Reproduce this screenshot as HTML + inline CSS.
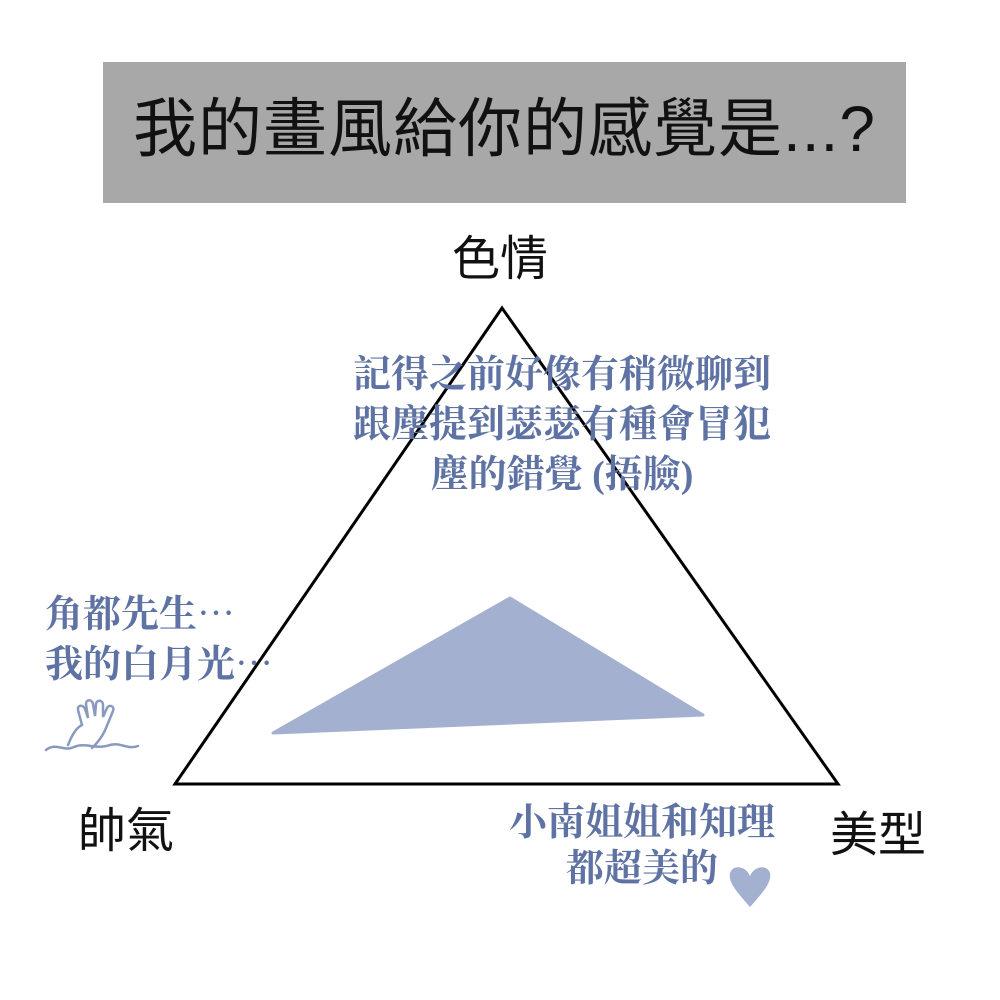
<!DOCTYPE html>
<html><head><meta charset="utf-8"><style>
body{margin:0;width:1000px;height:1000px;background:#fff;position:relative;overflow:hidden}
.t{position:absolute;white-space:nowrap}
.sans{font-family:"Liberation Sans","Noto Sans CJK TC",sans-serif;color:#111}
.serif{font-family:"Liberation Serif","Noto Serif CJK SC",serif;color:#5e73a3;font-weight:bold;font-size:38px;line-height:50px}
</style></head><body>
<div style="position:absolute;left:103px;top:62px;width:803px;height:141px;background:#a8a8a8"></div>
<div class="t sans" style="left:133px;top:92px;font-size:64px;line-height:74px;letter-spacing:1px">我的畫風給你的感覺是...?</div>
<svg width="1000" height="1000" style="position:absolute;left:0;top:0">
<polygon points="502,308 175,784 838,784" fill="none" stroke="#000" stroke-width="3"/>
<polygon points="273,733 510,598 703,715" fill="#a3b0cf" stroke="#a3b0cf" stroke-width="3" stroke-linejoin="round"/>
<path d="M750,907 C738,893 728,883 730,873 C733,864 746,866 750,876 C754,866 767,864 770,873 C772,883 762,893 750,907Z" fill="#a3b0cf"/>
<g fill="none" stroke="#8a9abf" stroke-width="2.5" stroke-linecap="round">
<path d="M46,750 C56,742 64,752 74,747 C86,742 96,750 110,745 C120,742 128,750 138,746"/>
<path d="M68,745 C72,735 76,728 82,725 L78,710 C77,705 83,704 85,709 L88,718 L86,704 C86,699 92,699 93,704 L95,716 L96,704 C97,699 103,700 103,705 L103,717 L107,708 C109,704 115,706 113,711 L106,728 C102,738 96,744 92,748"/>
</g>
</svg>
<div class="t sans" style="left:452px;top:232px;font-size:48px;line-height:56px">色情</div>
<div class="t sans" style="left:78px;top:804px;font-size:48px;line-height:56px">帥氣</div>
<div class="t sans" style="left:830px;top:808px;font-size:48px;line-height:56px">美型</div>
<div class="t serif" style="left:342px;top:350px;width:440px;text-align:center">記得之前好像有稍微聊到<br>跟塵提到瑟瑟有種會冒犯<br>塵的錯覺 (捂臉)</div>
<div class="t serif" style="left:45px;top:590px">角都先生⋯<br>我的白月光⋯</div>
<div class="t serif" style="left:500px;top:800px;width:284px;text-align:center;line-height:46px">小南姐姐和知理<br>都超美的</div>
</body></html>
